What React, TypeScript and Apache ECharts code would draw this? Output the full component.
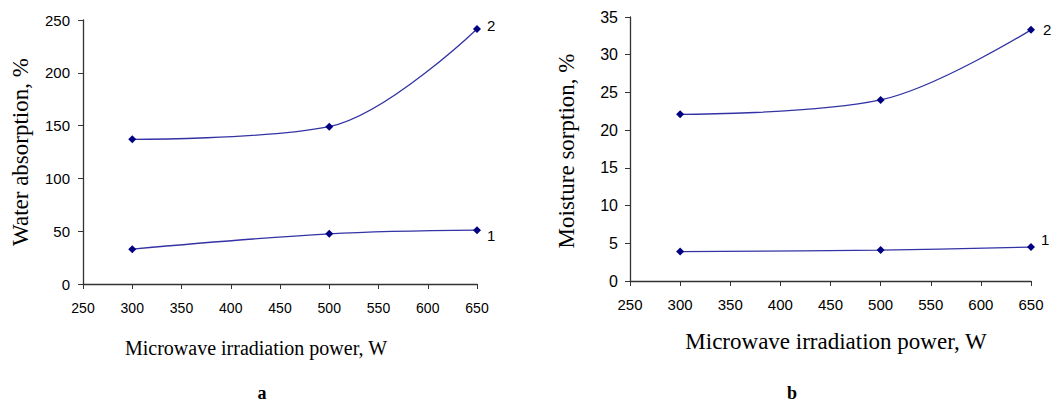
import React, { useEffect, useRef } from "react";
import * as echarts from "echarts";

const powers = [300, 500, 650];
const waterAbs1 = [33, 47.5, 51];
const waterAbs2 = [137, 149, 241.5];
const moist1 = [3.9, 4.1, 4.5];
const moist2 = [22.1, 24.0, 33.3];
const xTicks = { min: 250, max: 650, interval: 50 };
const yTicksA = { min: 0, max: 250, interval: 50 };
const yTicksB = { min: 0, max: 35, interval: 5 };

const LINE = "#3333a6";
const MARK = "#000080";

function pairs(xs: number[], ys: number[]) {
  return xs.map((x, i) => [x, ys[i]]);
}

export default function App() {
  const ref = useRef<HTMLDivElement>(null);
  useEffect(() => {
    if (!ref.current) return;
    const chart = echarts.init(ref.current, null, { renderer: "svg" });
    const axisLine = { show: true, lineStyle: { color: "#333", width: 1.3 } };
    const xAxisBase = (gridIndex: number, size: number, margin: number) => ({
      type: "value",
      gridIndex,
      min: xTicks.min,
      max: xTicks.max,
      interval: xTicks.interval,
      axisLine,
      axisTick: { show: true, length: 5, inside: false, lineStyle: { color: "#333" } },
      splitLine: { show: false },
      axisLabel: { color: "#000", fontFamily: "Liberation Sans", fontSize: size, margin },
    });
    const yAxisBase = (gridIndex: number, t: any, size: number, margin: number) => ({
      type: "value",
      gridIndex,
      min: t.min,
      max: t.max,
      interval: t.interval,
      axisLine,
      axisTick: { show: true, length: 5, inside: false, lineStyle: { color: "#333" } },
      splitLine: { show: false },
      axisLabel: { color: "#000", fontFamily: "Liberation Sans", fontSize: size, margin },
    });
    const series = (
      name: string,
      xi: number,
      ys: number[],
      label: string,
      offset: number[],
      size: number
    ) => ({
      type: "line",
      name,
      xAxisIndex: xi,
      yAxisIndex: xi,
      data: pairs(powers, ys),
      smooth: 0.35,
      symbol: "diamond",
      symbolSize: 8,
      lineStyle: { color: LINE, width: 1.3 },
      itemStyle: { color: MARK },
      endLabel: {
        show: true,
        formatter: label,
        color: "#000",
        fontFamily: "Liberation Sans",
        fontSize: size,
        offset,
      },
    });
    const titleFont = "Liberation Serif";
    chart.setOption({
      animation: false,
      backgroundColor: "#fff",
      grid: [
        { left: 83, right: 1051 - 477, top: 20, bottom: 403 - 284 },
        { left: 630, right: 1051 - 1031, top: 17, bottom: 403 - 281 },
      ],
      xAxis: [xAxisBase(0, 14, 17), xAxisBase(1, 15, 16)],
      yAxis: [yAxisBase(0, yTicksA, 15, 13), yAxisBase(1, yTicksB, 16, 12)],
      series: [
        series("a1", 0, waterAbs1, "1", [2, 5], 15),
        series("a2", 0, waterAbs2, "2", [2, -3], 15),
        series("b1", 1, moist1, "1", [2, -8], 15),
        series("b2", 1, moist2, "2", [4, 0], 15),
      ],
      graphic: [
        {
          type: "text",
          x: 256,
          y: 348,
          style: {
            text: "Microwave irradiation power, W",
            font: `20px ${titleFont}`,
            fill: "#000",
            align: "center",
            verticalAlign: "middle",
          },
        },
        {
          type: "text",
          x: 836,
          y: 341,
          style: {
            text: "Microwave irradiation power, W",
            font: `23px ${titleFont}`,
            fill: "#000",
            align: "center",
            verticalAlign: "middle",
          },
        },
        {
          type: "text",
          x: 20,
          y: 152,
          rotation: Math.PI / 2,
          style: {
            text: "Water absorption, %",
            font: `23px ${titleFont}`,
            fill: "#000",
            align: "center",
            verticalAlign: "middle",
          },
        },
        {
          type: "text",
          x: 566,
          y: 151,
          rotation: Math.PI / 2,
          style: {
            text: "Moisture sorption, %",
            font: `23px ${titleFont}`,
            fill: "#000",
            align: "center",
            verticalAlign: "middle",
          },
        },
        {
          type: "text",
          x: 262,
          y: 393,
          style: {
            text: "a",
            font: `bold 18px ${titleFont}`,
            fill: "#000",
            align: "center",
            verticalAlign: "middle",
          },
        },
        {
          type: "text",
          x: 792,
          y: 393,
          style: {
            text: "b",
            font: `bold 18px ${titleFont}`,
            fill: "#000",
            align: "center",
            verticalAlign: "middle",
          },
        },
      ],
    });
    return () => chart.dispose();
  }, []);
  return (
    <div
      ref={ref}
      style={{ position: "absolute", left: 0, top: 0, width: 1051, height: 403, background: "#fff" }}
    />
  );
}
